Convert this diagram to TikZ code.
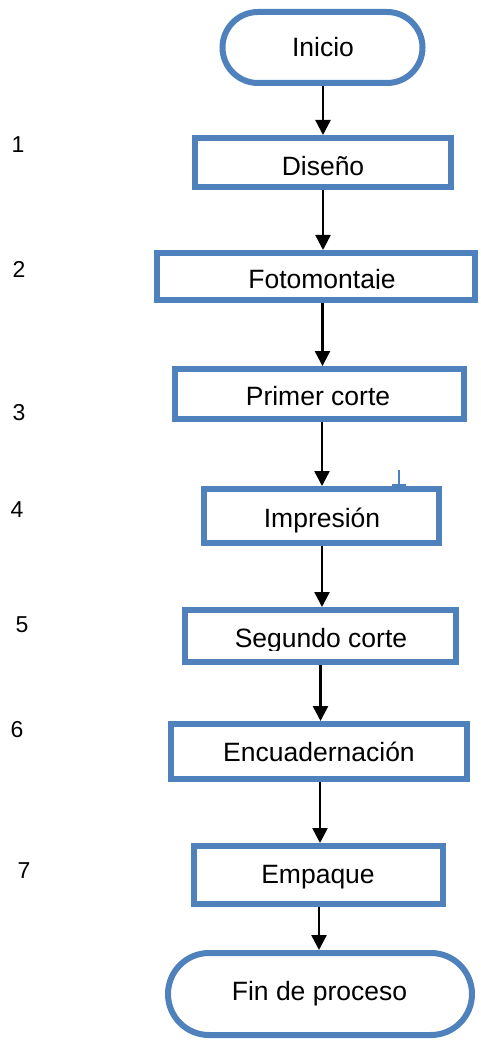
\documentclass[tikz,border=0pt]{standalone}
\usepackage{fontspec}
\setmainfont{Liberation Sans}
\usetikzlibrary{arrows.meta,shapes.misc}

\definecolor{boxblue}{HTML}{4F81BD}

\tikzset{
  stepbox/.style={draw=boxblue, line width=6pt, fill=white, inner sep=0pt, outer sep=3pt},
  termbox/.style={stepbox, rounded rectangle},
  lbl/.style={inner sep=0pt, anchor=base, font=\fontsize{26.5}{30}\selectfont},
  num/.style={inner sep=0pt, anchor=base, font=\fontsize{23}{26}\selectfont},
  arr/.style={line width=2.5pt, -{Triangle[width=15pt,length=15pt]}},
}

\begin{document}
\begin{tikzpicture}[x=1pt, y=-1pt]
\useasboundingbox (0,0) rectangle (480,1040);

% process boxes
\node[termbox, minimum width=200pt, minimum height=71pt] (inicio) at (322.5,47.5) {};
\node[stepbox, minimum width=256pt, minimum height=49pt] (diseno) at (323,162.5) {};
\node[stepbox, minimum width=318pt, minimum height=47pt] (foto) at (316,276.5) {};
\node[stepbox, minimum width=289pt, minimum height=50pt] (primer) at (319.5,394) {};
\node[stepbox, minimum width=235pt, minimum height=54pt] (impresion) at (321.5,516) {};
\node[stepbox, minimum width=271pt, minimum height=52pt] (segundo) at (320.5,636) {};
\node[stepbox, minimum width=296pt, minimum height=55pt] (encuad) at (319,751.5) {};
\node[stepbox, minimum width=249pt, minimum height=58pt] (empaque) at (318.5,875) {};
\node[termbox, minimum width=304pt, minimum height=82pt] (fin) at (320,994) {};

% labels (some text frames cut off the descenders)
\node[lbl] (t-inicio) at (323,57) {Inicio};
\begin{scope}
  \clip (196,140) rectangle (450,176);
  \node[lbl] (t-diseno) at (323,176) {Diseño};
\end{scope}
\begin{scope}
  \clip (158,254) rectangle (474,288.5);
  \node[lbl] (t-foto) at (322,288.5) {Fotomontaje};
\end{scope}
\begin{scope}
  \clip (176,370) rectangle (463,406);
  \node[lbl] (t-primer) at (318,405) {Primer corte};
\end{scope}
\node[lbl] (t-impresion) at (322,527) {Impresión};
\begin{scope}
  \clip (186,611) rectangle (455,650);
  \node[lbl] (t-segundo) at (321,647.5) {Segundo corte};
\end{scope}
\node[lbl] (t-encuad) at (319,761) {Encuadernación};
\node[lbl] (t-empaque) at (318,883) {Empaque};
\node[lbl] (t-fin) at (319.5,1000) {Fin de proceso};

% step numbers
\node[num] (n1) at (18,153) {1};
\node[num] (n2) at (19,277) {2};
\node[num] (n3) at (19,420) {3};
\node[num] (n4) at (17,517) {4};
\node[num] (n5) at (22,632) {5};
\node[num] (n6) at (17,737) {6};
\node[num] (n7) at (24,878) {7};

% connectors
\draw[arr] (323,0 |- inicio.south) -- (323,0 |- diseno.north);
\draw[arr] (323,0 |- diseno.south) -- (323,0 |- foto.north);
\draw[arr] (322.5,0 |- foto.south) -- (322.5,0 |- primer.north);
\draw[arr] (322,0 |- primer.south) -- (322,0 |- impresion.north);
\draw[arr] (322,0 |- impresion.south) -- (322,0 |- segundo.north);
\draw[arr] (320.5,0 |- segundo.south) -- (320.5,0 |- encuad.north);
\draw[arr] (320,0 |- encuad.south) -- (320,0 |- empaque.north);
\draw[arr] (319,0 |- empaque.south) -- (319,0 |- fin.north);

% small stray tick above the Impresión box
\draw[boxblue, line width=2pt] (399,470) -- (399,485);
\draw[boxblue, line width=2pt] (392,485) -- (406,485);
\end{tikzpicture}
\end{document}
